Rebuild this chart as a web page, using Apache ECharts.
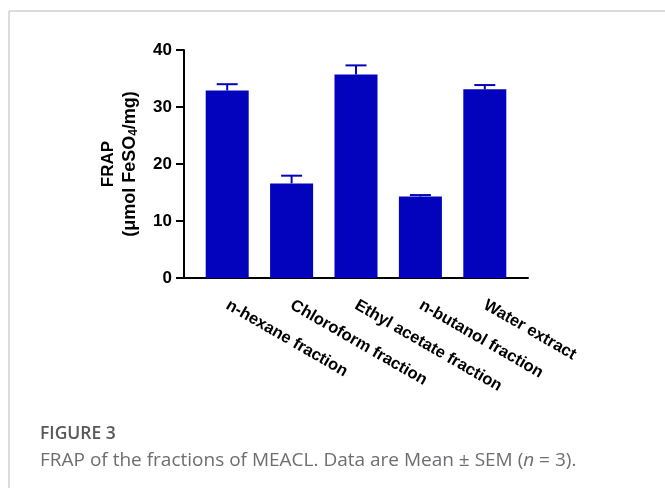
<!DOCTYPE html>
<html>
<head>
<meta charset="utf-8">
<script src="https://cdn.jsdelivr.net/npm/echarts@6/dist/echarts.min.js"></script>
<style>
html,body{margin:0;padding:0;background:#fff;}
#c{width:665px;height:488px;}
</style>
</head>
<body>
<div id="c"></div>
<script>
const categories = ['n-hexane fraction', 'Chloroform fraction', 'Ethyl acetate fraction', 'n-butanol fraction', 'Water extract'];
const means = [32.9, 16.6, 35.7, 14.3, 33.1];
const sems = [1.1, 1.35, 1.6, 0.25, 0.75];
const yTicks = [0, 10, 20, 30, 40];

const BLUE = '#0303BE';
const chart = echarts.init(document.getElementById('c'), null, {renderer: 'canvas'});

const errData = categories.map((c, i) => [i, means[i], sems[i]]);

const option = {
  animation: false,
  backgroundColor: '#fff',
  title: [
    {
      text: 'FIGURE 3', left: 40, top: 425, padding: 0,
      textStyle: {fontFamily: 'Open Sans', fontSize: 17.5, fontWeight: 600, color: '#58595b'}
    },
    {
      text: 'FRAP of the fractions of MEACL. Data are Mean {u|±} SEM ({i|n} = 3).', left: 40, top: 451, padding: 0,
      textStyle: {
        fontFamily: 'Open Sans', fontSize: 19, fontWeight: 'normal', color: '#6d6e71',
        rich: {
          u: {fontFamily: 'Open Sans', fontSize: 19, color: '#6d6e71'},
          i: {fontFamily: 'Open Sans', fontSize: 19, color: '#6d6e71', fontStyle: 'italic'}
        }
      }
    }
  ],
  graphic: [
    {type: 'line', shape: {x1: 9, y1: 11, x2: 665, y2: 11}, style: {stroke: '#d0d0d0', lineWidth: 1.5}, silent: true},
    {type: 'line', shape: {x1: 9, y1: 11, x2: 9, y2: 488}, style: {stroke: '#d0d0d0', lineWidth: 1.5}, silent: true}
  ],
  grid: [
    {left: 195, width: 322, top: 50, bottom: 210, containLabel: false},
    {left: 184, width: 344, top: 50, bottom: 210, containLabel: false}
  ],
  xAxis: [
    {
      type: 'category', gridIndex: 0, data: categories,
      axisLine: {show: false}, axisTick: {show: false},
      axisLabel: {
        rotate: -30, margin: 26, interval: 0,
        fontFamily: 'Liberation Sans', fontWeight: 'bold', fontSize: 16.5, color: '#000'
      }
    },
    {
      type: 'category', gridIndex: 1, data: [''],
      axisLine: {show: true, lineStyle: {color: '#000', width: 2}},
      axisTick: {show: false}, axisLabel: {show: false}
    }
  ],
  yAxis: [
    {
      type: 'value', gridIndex: 0, min: 0, max: 40, interval: 10, offset: 11,
      axisLine: {show: true, lineStyle: {color: '#000', width: 2}},
      axisTick: {show: true, length: 8, lineStyle: {color: '#000', width: 2}},
      splitLine: {show: false},
      axisLabel: {
        margin: 12, fontFamily: 'Liberation Sans', fontWeight: 'bold', fontSize: 17, color: '#000',
        formatter: v => yTicks.includes(v) ? String(v) : ''
      },
      name: '{a|FRAP}\n{b|(μmol FeSO}{sub|4}{b|/mg)}',
      nameLocation: 'middle', nameRotate: 90, nameGap: 43,
      nameTextStyle: {
        fontFamily: 'Liberation Sans', fontWeight: 'bold', fontSize: 17, color: '#000', align: 'center',
        rich: {
          a: {fontFamily: 'Liberation Sans', fontWeight: 'bold', fontSize: 17, color: '#000', lineHeight: 22},
          b: {fontFamily: 'Liberation Sans', fontWeight: 'bold', fontSize: 18, color: '#000', lineHeight: 22},
          sub: {fontFamily: 'Liberation Sans', fontWeight: 'bold', fontSize: 12, color: '#000', lineHeight: 22, padding: [8, 0, 0, 0]}
        }
      }
    },
    {
      type: 'value', gridIndex: 1, min: 0, max: 40, show: false
    }
  ],
  series: [
    {
      type: 'bar', xAxisIndex: 0, yAxisIndex: 0, data: means, barWidth: 43,
      itemStyle: {color: BLUE}
    },
    {
      type: 'custom', xAxisIndex: 0, yAxisIndex: 0, data: errData, z: 3,
      renderItem: function (params, api) {
        const x = api.value(0), y = api.value(1), e = api.value(2);
        const p0 = api.coord([x, y]);
        const p1 = api.coord([x, y + e]);
        const hw = 10.5;
        return {
          type: 'group',
          children: [
            {type: 'line', shape: {x1: p0[0], y1: p0[1], x2: p1[0], y2: p1[1]}, style: {stroke: BLUE, lineWidth: 2}},
            {type: 'line', shape: {x1: p1[0] - hw, y1: p1[1], x2: p1[0] + hw, y2: p1[1]}, style: {stroke: BLUE, lineWidth: 2}}
          ]
        };
      }
    }
  ]
};
chart.setOption(option);
</script>
</body>
</html>
